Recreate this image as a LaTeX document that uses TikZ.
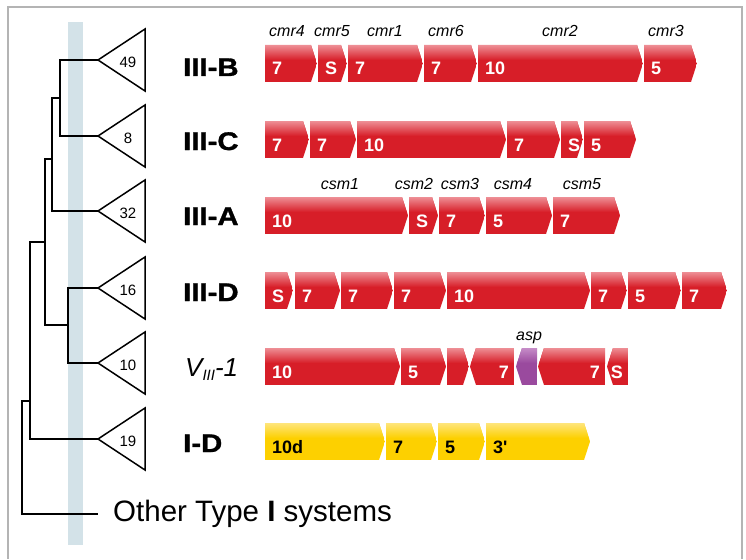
\documentclass[tikz,border=0pt]{standalone}
\usepackage{fontspec}
\usepackage{graphicx}
\setmainfont{Liberation Sans}
\setsansfont{Liberation Sans}
\newfontfamily\heavyfont[FakeBold=1.2]{Liberation Sans Bold}

\definecolor{geneRed}{HTML}{D71E28}
\definecolor{geneRedTop}{HTML}{EE8E95}
\definecolor{geneYel}{HTML}{FDD000}
\definecolor{geneYelTop}{HTML}{FEE57C}
\definecolor{genePur}{HTML}{9A4A9E}
\definecolor{genePurTop}{HTML}{C68CC8}
\definecolor{bandBlue}{HTML}{D3E2E8}
\definecolor{frameGray}{HTML}{B4B4B4}

\tikzset{
  treeline/.style={line width=1.7pt, black, line join=miter},
  clade/.style={draw, line width=1.5pt, line join=miter, fill=white},
  cladenum/.style={inner sep=0pt, font=\fontsize{15}{15}\selectfont},
  cladename/.style={anchor=base west, inner sep=0pt,
    font=\fontsize{25.5}{25.5}\selectfont\heavyfont},
  genename/.style={anchor=base, inner sep=0pt,
    font=\fontsize{16}{16}\selectfont\itshape},
  genetxt/.style={inner sep=0pt, font=\fontsize{18}{18}\selectfont\bfseries}
}

% forward gene: name, x left, x tip, y top, colour, label, label colour
\newcommand\genefwd[7]{%
  \begin{scope}
    \clip (#2,#4) -- (#3-6,#4) -- (#3,#4+18.5) -- (#3-6,#4+37) -- (#2,#4+37) -- cycle;
    \fill[gene#5] (#2,#4) rectangle (#3,#4+37);
    \shade[top color=gene#5Top, bottom color=gene#5] (#2,#4) rectangle (#3,#4+15);
  \end{scope}
  \node[genetxt, text=#7, anchor=base west] (#1) at (#2+7,#4+30) {#6};
}
% reverse gene: name, x tip, x right, y top, colour, label, label colour
\newcommand\generev[7]{%
  \begin{scope}
    \clip (#2,#4+18.5) -- (#2+6,#4) -- (#3,#4) -- (#3,#4+37) -- (#2+6,#4+37) -- cycle;
    \fill[gene#5] (#2,#4) rectangle (#3,#4+37);
    \shade[top color=gene#5Top, bottom color=gene#5] (#2,#4) rectangle (#3,#4+15);
  \end{scope}
  \node[genetxt, text=#7, anchor=base east] (#1) at (#3-5,#4+30) {#6};
}
% collapsed clade triangle with its apex at a named coordinate
\newcommand\cladetri[3]{%
  \draw[clade] (#1) -- ++(47,-31) -- ++(0,62) -- cycle;
  \node[cladenum] (#2) at ([xshift=30pt,yshift=-2pt]#1) {#3};
}

\begin{document}
\begin{tikzpicture}[x=1pt,y=-1pt]
  \useasboundingbox (0,0) rectangle (746,559);
  \fill[white] (0,0) rectangle (746,559);
  \draw[frameGray, line width=1.3pt] (8,559) -- (8,7) -- (742,7) -- (742,559);

  % shaded band across the tree
  \fill[bandBlue] (68,22) rectangle (83,545);

  % leaves
  \coordinate (aB) at (98,60);
  \coordinate (aC) at (98,136);
  \coordinate (aA) at (98,211);
  \coordinate (aD) at (98,288);
  \coordinate (aV) at (98,363);
  \coordinate (aI) at (98,439);
  \coordinate (aO) at (98,514);
  % inner nodes
  \coordinate (nBC) at (60,98);
  \coordinate (nBCA) at (52,159);
  \coordinate (nDV) at (68,325);
  \coordinate (nIII) at (45,242);
  \coordinate (nCas) at (30,401);
  \coordinate (root) at (22,401);

  \draw[treeline] (aB) -| (nBC) |- (aC);
  \draw[treeline] (nBC) -| (nBCA) |- (aA);
  \draw[treeline] (aD) -| (nDV) |- (aV);
  \draw[treeline] (nBCA) -| (nIII) |- (nDV);
  \draw[treeline] (nIII) -| (nCas) |- (aI);
  \draw[treeline] (nCas) -- (root) |- (aO);

  \cladetri{aB}{tB}{49}
  \cladetri{aC}{tC}{8}
  \cladetri{aA}{tA}{32}
  \cladetri{aD}{tD}{16}
  \cladetri{aV}{tV}{10}
  \cladetri{aI}{tI}{19}

  % clade names
  \node[cladename] (lB) at (183,76) {\scalebox{1.15}[1]{III-B}};
  \node[cladename] (lC) at (183,150) {\scalebox{1.15}[1]{III-C}};
  \node[cladename] (lA) at (183,225) {\scalebox{1.15}[1]{III-A}};
  \node[cladename] (lD) at (183,301) {\scalebox{1.15}[1]{III-D}};
  \node[anchor=base west, inner sep=0pt, font=\fontsize{26}{26}\selectfont\itshape]
    (lV) at (185,376) {V\raisebox{-4pt}{\fontsize{15}{15}\selectfont III}-1};
  \node[cladename] (lI) at (183,452) {\scalebox{1.15}[1]{I-D}};
  \node[anchor=base west, inner sep=0pt, font=\fontsize{29.5}{29.5}\selectfont]
    (lO) at (113,521) {Other Type \textbf{I} systems};

  % III-B locus
  \genefwd{b1}{265}{317}{45}{Red}{7}{white}
  \genefwd{b2}{318}{347}{45}{Red}{S}{white}
  \genefwd{b3}{348}{423}{45}{Red}{7}{white}
  \genefwd{b4}{424}{477}{45}{Red}{7}{white}
  \genefwd{b5}{478}{643}{45}{Red}{10}{white}
  \genefwd{b6}{644}{697}{45}{Red}{5}{white}
  \node[genename] (cmr4) at (287,37) {cmr4};
  \node[genename] (cmr5) at (332,37) {cmr5};
  \node[genename] (cmr1) at (385,37) {cmr1};
  \node[genename] (cmr6) at (446,37) {cmr6};
  \node[genename] (cmr2) at (560,37) {cmr2};
  \node[genename] (cmr3) at (666,37) {cmr3};

  % III-C locus
  \genefwd{c1}{265}{309}{121}{Red}{7}{white}
  \genefwd{c2}{310}{356}{121}{Red}{7}{white}
  \genefwd{c3}{357}{506}{121}{Red}{10}{white}
  \genefwd{c4}{507}{560}{121}{Red}{7}{white}
  \genefwd{c5}{561}{583}{121}{Red}{S}{white}
  \genefwd{c6}{584}{636}{121}{Red}{5}{white}

  % III-A locus
  \genefwd{a1}{265}{408}{197}{Red}{10}{white}
  \genefwd{a2}{409}{438}{197}{Red}{S}{white}
  \genefwd{a3}{439}{485}{197}{Red}{7}{white}
  \genefwd{a4}{486}{552}{197}{Red}{5}{white}
  \genefwd{a5}{553}{620}{197}{Red}{7}{white}
  \node[genename] (csm1) at (340,189) {csm1};
  \node[genename] (csm2) at (414,189) {csm2};
  \node[genename] (csm3) at (460,189) {csm3};
  \node[genename] (csm4) at (513,189) {csm4};
  \node[genename] (csm5) at (582,189) {csm5};

  % III-D locus
  \genefwd{d1}{265}{293}{272}{Red}{S}{white}
  \genefwd{d2}{295}{340}{272}{Red}{7}{white}
  \genefwd{d3}{341}{393}{272}{Red}{7}{white}
  \genefwd{d4}{394}{446}{272}{Red}{7}{white}
  \genefwd{d5}{447}{590}{272}{Red}{10}{white}
  \genefwd{d6}{591}{627}{272}{Red}{7}{white}
  \genefwd{d7}{628}{681}{272}{Red}{5}{white}
  \genefwd{d8}{682}{727}{272}{Red}{7}{white}

  % V(III)-1 locus
  \genefwd{v1}{265}{400}{348}{Red}{10}{white}
  \genefwd{v2}{401}{446}{348}{Red}{5}{white}
  \genefwd{v3}{447}{469}{348}{Red}{}{white}
  \generev{v4}{470}{514}{348}{Red}{7}{white}
  \generev{v5}{516}{537}{348}{Pur}{}{white}
  \generev{v6}{538}{605}{348}{Red}{7}{white}
  \generev{v7}{607}{628}{348}{Red}{S}{white}
  \node[genename] (asp) at (529,340) {asp};

  % I-D locus
  \genefwd{i1}{265}{385}{423}{Yel}{10d}{black}
  \genefwd{i2}{386}{437}{423}{Yel}{7}{black}
  \genefwd{i3}{438}{485}{423}{Yel}{5}{black}
  \genefwd{i4}{486}{590}{423}{Yel}{3\textquotesingle}{black}
\end{tikzpicture}
\end{document}
